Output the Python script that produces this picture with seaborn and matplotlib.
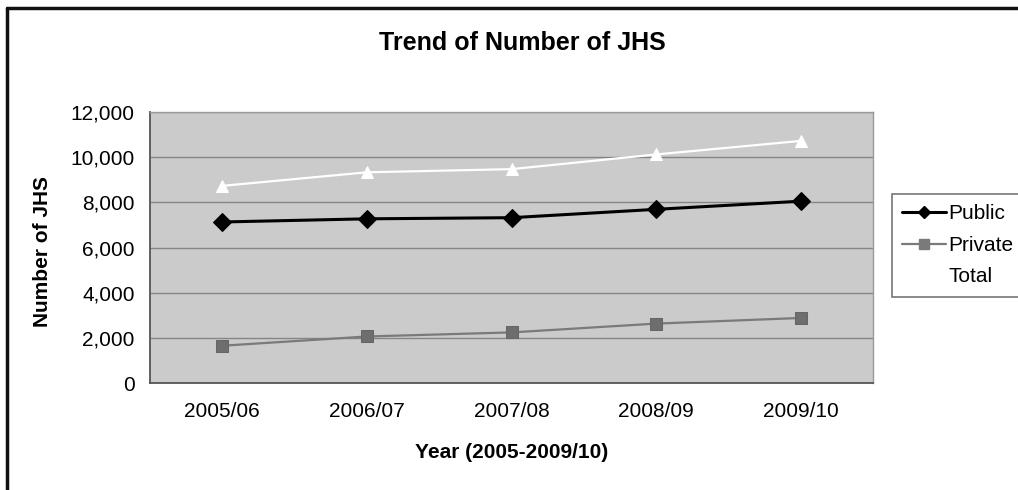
import matplotlib
matplotlib.use("Agg")
import matplotlib.pyplot as plt
from matplotlib.lines import Line2D
from matplotlib.ticker import FuncFormatter, FixedLocator
import seaborn as sns
import pandas as pd

years = ["2005/06", "2006/07", "2007/08", "2008/09", "2009/10"]
public = [7130, 7270, 7320, 7690, 8050]
private = [1650, 2060, 2240, 2630, 2880]
total = [8730, 9330, 9470, 10120, 10720]
series_names = ["Public", "Private", "Total"]
y_ticks = [0, 2000, 4000, 6000, 8000, 10000, 12000]

sns.set_style("white")
plt.rcParams["font.family"] = ["Liberation Sans", "DejaVu Sans"]
plt.rcParams["text.color"] = "#000000"
plt.rcParams["axes.labelcolor"] = "#000000"

df = pd.DataFrame({
    "Year": years * 3,
    "Value": public + private + total,
    "Series": [series_names[0]] * 5 + [series_names[1]] * 5 + [series_names[2]] * 5,
})
df["x"] = list(range(len(years))) * 3

W, H = 1018, 490
fig = plt.figure(figsize=(W / 100, H / 100), dpi=100)
ax = fig.add_axes([150 / W, 1 - 383 / H, (873 - 150) / W, (383 - 112) / H])
ax.set_facecolor("#cbcbcb")

palette = {"Public": "#000000", "Private": "#7a7a7a", "Total": "#ffffff"}
markers = {"Public": "D", "Private": "s", "Total": "^"}
widths = {"Public": 2.2, "Private": 1.6, "Total": 1.6}

for name in series_names:
    sub = df[df["Series"] == name]
    sns.lineplot(data=sub, x="x", y="Value", ax=ax, color=palette[name],
                 marker=markers[name], markersize=9 if name != "Private" else 8,
                 markeredgecolor=palette[name] if name != "Private" else "#666666",
                 markerfacecolor=palette[name] if name != "Private" else "#6e6e6e",
                 linewidth=widths[name], legend=False, zorder=3)

ax.set_xlim(-0.5, len(years) - 0.5)
ax.set_ylim(0, 12000)
ax.set_yticks(y_ticks)
ax.yaxis.set_major_formatter(FuncFormatter(lambda v, p: f"{int(v):,}"))
ax.set_xticks(range(len(years)))
ax.set_xticklabels(years)
ax.xaxis.set_minor_locator(FixedLocator([i + 0.5 for i in range(-1, len(years))]))
ax.tick_params(axis="x", which="major", length=0, labelsize=15, pad=14,
               labelcolor="#000000")
ax.tick_params(axis="x", which="minor", length=5, width=1, color="#444444", direction="out")
ax.tick_params(axis="y", which="major", length=6, width=1, color="#444444", direction="out",
               labelsize=15, pad=5, labelcolor="#000000")

ax.grid(axis="y", color="#858585", linewidth=1.0)
ax.set_axisbelow(True)
for side in ["top", "right"]:
    ax.spines[side].set_color("#9a9a9a")
    ax.spines[side].set_linewidth(1.0)
for side in ["left", "bottom"]:
    ax.spines[side].set_color("#555555")
    ax.spines[side].set_linewidth(1.3)

ax.set_xlabel("")
ax.set_ylabel("")
fig.text(512 / W, 1 - 452 / H, "Year (2005-2009/10)", ha="center", va="center",
         fontsize=15, fontweight="bold", color="#000000")
fig.text(43 / W, 1 - 251 / H, "Number of JHS", ha="center", va="center",
         rotation=90, fontsize=15, fontweight="bold", color="#000000")
fig.text(522 / W, 1 - 43 / H, "Trend of Number of JHS", ha="center", va="center",
         fontsize=18, fontweight="bold", color="#000000")

handles = [
    Line2D([], [], color="#000000", marker="D", markersize=6, linewidth=2.2),
    Line2D([], [], color="#7a7a7a", marker="s", markersize=7, markerfacecolor="#7a7a7a", linewidth=1.6),
    Line2D([], [], color="#ffffff", marker="^", markersize=7, linewidth=1.6),
]
leg = fig.legend(handles, series_names, loc="upper left",
                 bbox_to_anchor=(892 / W, 1 - 194 / H), fontsize=15, frameon=True,
                 fancybox=False, edgecolor="#777777", framealpha=1,
                 handlelength=2.1, handletextpad=0.1, labelspacing=0.6,
                 borderpad=0.5, borderaxespad=0)
leg.get_frame().set_linewidth(1.2)
for t in leg.get_texts():
    t.set_color("#000000")

# outer chart border (top and left edges visible)
fig.add_artist(Line2D([7 / W, 7 / W], [0, 1 - 8 / H], color="#111111", linewidth=2.5))
fig.add_artist(Line2D([7 / W, 1], [1 - 8 / H, 1 - 8 / H], color="#111111", linewidth=2.5))

fig.savefig("out.png", dpi=100)
